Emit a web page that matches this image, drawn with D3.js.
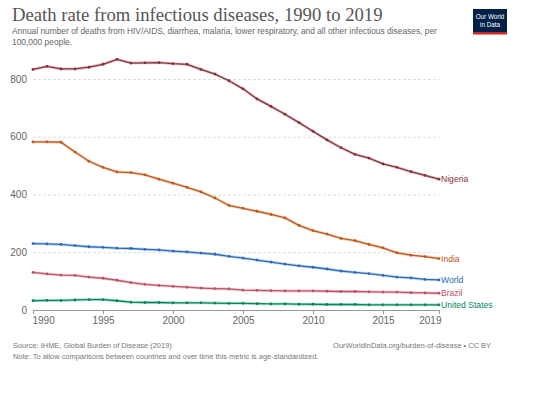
<!DOCTYPE html>
<html><head><meta charset="utf-8">
<script src="https://cdn.jsdelivr.net/npm/d3@7/dist/d3.min.js"></script>
<style>body{margin:0;background:#fff;}svg{display:block;}</style>
</head><body>
<svg id="c" width="540" height="393"></svg>
<script>
const years = d3.range(1990, 2020);
const countries = ["Nigeria", "India", "World", "Brazil", "United States"];
const colors = ["#883039", "#C05917", "#286BBB", "#C15065", "#00875E"];
const nigeria = [833,844,835,835,841,851,868,855,856,857,853,851,833,817,794,766,731,705,678,649,619,589,562,539,526,506,494,479,466,453];
const india = [582,582,581,547,515,494,478,476,468,453,439,425,409,388,362,352,342,331,319,293,275,263,248,240,227,215,198,190,185,178];
const world = [230,229,227,223,219,217,214,213,210,208,204,201,197,193,186,180,173,166,159,153,148,142,135,130,126,120,114,111,106,104];
const brazil = [130,125,121,120,114,110,103,95,89,85,82,79,76,74,73,69,68,67,66,66,66,65,64,64,63,62,62,60,59,58];
const usa = [32,33,33,35,36,36,32,27,26,26,25,25,25,24,23,23,22,21,21,20,20,19,19,19,18,18,18,18,18,18];
const seriesValues = [nigeria, india, world, brazil, usa];
const yTicks = [0, 200, 400, 600, 800];
const xTicks = [1990, 1995, 2000, 2005, 2010, 2015, 2019];
const title = "Death rate from infectious diseases, 1990 to 2019";
const subtitle = ["Annual number of deaths from HIV/AIDS, diarrhea, malaria, lower respiratory, and all other infectious diseases, per", "100,000 people."];
const source = "Source: IHME, Global Burden of Disease (2019)";
const note = "Note: To allow comparisons between countries and over time this metric is age-standardized.";
const credit = "OurWorldInData.org/burden-of-disease • CC BY";

const svg = d3.select("#c");
const sans = "'Liberation Sans', Arial, sans-serif";
const x = d3.scaleLinear().domain([1990, 2019]).range([33, 439]);
const y = d3.scaleLinear().domain([0, 800]).range([310, 79]);

svg.append("text").attr("x", 12).attr("y", 21).attr("font-family", "'Liberation Serif', serif")
  .attr("font-size", 18.7).attr("fill", "#555").text(title);
subtitle.forEach((s, i) => svg.append("text").attr("x", 12).attr("y", 34 + i * 11)
  .attr("font-family", sans).attr("font-size", 8.4).attr("fill", "#666").text(s));

// logo
const logo = svg.append("g");
logo.append("rect").attr("x", 473).attr("y", 9).attr("width", 34).attr("height", 23).attr("fill", "#002147");
logo.append("rect").attr("x", 473).attr("y", 32).attr("width", 34).attr("height", 2.5).attr("fill", "#ce261e");
logo.append("text").attr("x", 490).attr("y", 18.5).attr("text-anchor", "middle").attr("font-family", sans)
  .attr("font-size", 6.3).attr("fill", "#fff").text("Our World");
logo.append("text").attr("x", 490).attr("y", 27).attr("text-anchor", "middle").attr("font-family", sans)
  .attr("font-size", 6.3).attr("fill", "#fff").text("in Data");

// y grid
const yAxis = d3.axisLeft(y).tickValues(yTicks).tickSize(-(439 - 33)).tickPadding(6);
const gy = svg.append("g").attr("transform", "translate(33,0)").call(yAxis);
gy.select(".domain").remove();
gy.selectAll(".tick line").attr("stroke", "#ddd").attr("stroke-dasharray", "3,2")
  .filter(d => d === 0).remove();
gy.selectAll(".tick text").attr("font-family", sans).attr("font-size", 10).attr("fill", "#666");

// x axis
const xAxis = d3.axisBottom(x).tickValues(xTicks).tickFormat(d3.format("d")).tickSize(4).tickPadding(3);
const gx = svg.append("g").attr("transform", "translate(0,310)").call(xAxis);
gx.select(".domain").attr("stroke", "#999").attr("d", "M33,0.5H439");
gx.selectAll(".tick line").attr("stroke", "#999");
gx.selectAll(".tick text").attr("font-family", sans).attr("font-size", 10).attr("fill", "#666")
  .attr("text-anchor", d => d === 1990 ? "start" : d === 2019 ? "end" : "middle")
  .attr("dx", d => d === 1990 ? -1 : d === 2019 ? 2 : 0);

const line = d3.line().x((d, i) => x(years[i])).y(d => y(d));
seriesValues.slice().reverse().forEach((vals, ri) => {
  const k = seriesValues.length - 1 - ri;
  const g = svg.append("g");
  g.append("path").attr("d", line(vals)).attr("fill", "none").attr("stroke", colors[k])
    .attr("stroke-opacity", 0.25).attr("stroke-width", 3);
  g.append("path").attr("d", line(vals)).attr("fill", "none").attr("stroke", colors[k]).attr("stroke-width", 1.3);
  g.selectAll("circle").data(vals).join("circle").attr("cx", (d, i) => x(years[i])).attr("cy", d => y(d))
    .attr("r", 1.4).attr("fill", colors[k]);
  g.append("text").attr("x", 441).attr("y", y(vals[vals.length - 1])).attr("dy", "0.35em")
    .attr("font-family", sans).attr("font-size", 8.6).attr("fill", colors[k]).text(countries[k]);
});

svg.append("text").attr("x", 13).attr("y", 348).attr("font-family", sans).attr("font-size", 7.45).attr("fill", "#777").text(source);
svg.append("text").attr("x", 13).attr("y", 359).attr("font-family", sans).attr("font-size", 7.45).attr("fill", "#777").text(note);
svg.append("text").attr("x", 491).attr("y", 348).attr("text-anchor", "end").attr("font-family", sans).attr("font-size", 7.45).attr("fill", "#777").text(credit);
</script>
</body></html>
